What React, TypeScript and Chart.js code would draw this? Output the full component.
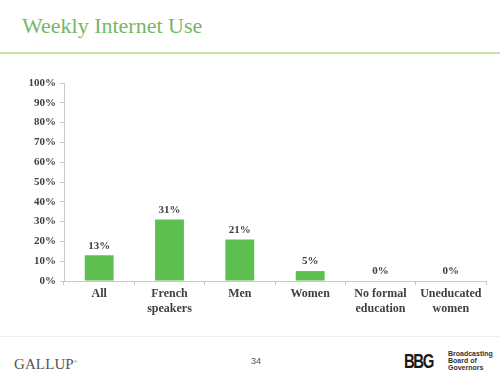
import React, { useEffect, useRef } from "react";
import { Chart, registerables } from "chart.js";

Chart.register(...registerables);

const categories: string[][] = [
  ["All"],
  ["French", "speakers"],
  ["Men"],
  ["Women"],
  ["No formal", "education"],
  ["Uneducated", "women"],
];
const values: number[] = [13, 31, 21, 5, 0, 0];
const valueLabels: string[] = ["13%", "31%", "21%", "5%", "0%", "0%"];
const yTicks: number[] = [0, 10, 20, 30, 40, 50, 60, 70, 80, 90, 100];

const SERIF = "'Liberation Serif', 'DejaVu Serif', serif";
const SANS = "'Liberation Sans', Arial, sans-serif";
const TEXT = "#404040";
const BAR = "#5cbf4f";

const valueLabelPlugin = {
  id: "valueLabels",
  afterDatasetsDraw(chart: any) {
    const ctx = chart.ctx;
    const meta = chart.getDatasetMeta(0);
    ctx.save();
    ctx.font = `bold 11px ${SERIF}`;
    ctx.fillStyle = TEXT;
    ctx.textAlign = "center";
    ctx.textBaseline = "bottom";
    meta.data.forEach((bar: any, i: number) => {
      ctx.fillText(valueLabels[i], bar.x, bar.y - 4);
    });
    ctx.restore();
  },
};

export default function App() {
  const ref = useRef<HTMLCanvasElement | null>(null);

  useEffect(() => {
    document.body.style.margin = "0";
    if (!ref.current) return;
    const chart = new Chart(ref.current, {
      type: "bar",
      data: {
        labels: categories,
        datasets: [
          {
            data: values,
            backgroundColor: BAR,
            borderWidth: 0,
            categoryPercentage: 0.82,
            barPercentage: 0.5,
          },
        ],
      },
      options: {
        animation: false,
        responsive: false,
        maintainAspectRatio: false,
        layout: { padding: { top: 13, right: 8, left: 0, bottom: 0 } },
        plugins: {
          legend: { display: false },
          tooltip: { enabled: false },
        },
        scales: {
          x: {
            offset: true,
            grid: {
              offset: true,
              drawOnChartArea: false,
              tickLength: 4,
              color: "#c8c8c8",
            },
            border: { color: "#c8c8c8" },
            ticks: {
              color: TEXT,
              font: { family: SERIF, size: 12, weight: "bold" },
              padding: 2,
              maxRotation: 0,
              autoSkip: false,
            },
            afterFit(scale: any) {
              scale.height = 39;
            },
          },
          y: {
            min: 0,
            max: 100,
            afterBuildTicks(scale: any) {
              scale.ticks = yTicks.map((v) => ({ value: v }));
            },
            grid: {
              drawOnChartArea: false,
              tickLength: 4,
              color: "#c8c8c8",
            },
            border: { color: "#c8c8c8" },
            ticks: {
              color: TEXT,
              font: { family: SERIF, size: 11, weight: "bold" },
              padding: 4,
              callback: (v: any) => `${v}%`,
            },
            afterFit(scale: any) {
              scale.width = 50;
            },
          },
        },
      },
      plugins: [valueLabelPlugin],
    });
    return () => chart.destroy();
  }, []);

  return (
    <div
      style={{
        position: "absolute",
        left: 0,
        top: 0,
        width: 500,
        height: 382,
        background: "#ffffff",
        overflow: "hidden",
      }}
    >
      <div
        style={{
          position: "absolute",
          left: 22,
          top: 13,
          fontFamily: SERIF,
          fontSize: 22,
          color: "#74b865",
          whiteSpace: "nowrap",
        }}
      >
        Weekly Internet Use
      </div>
      <div
        style={{
          position: "absolute",
          left: 0,
          top: 52,
          width: 500,
          height: 2,
          background: "#c9e4a6",
        }}
      />
      <canvas
        ref={ref}
        width={480}
        height={250}
        style={{ position: "absolute", left: 14, top: 70, width: 480, height: 250 }}
      />
      <div
        style={{
          position: "absolute",
          left: 0,
          top: 336,
          width: 500,
          height: 1,
          background: "#f0f0f0",
        }}
      />
      <div
        style={{
          position: "absolute",
          left: 14,
          top: 353,
          fontFamily: SERIF,
          fontSize: 15,
          color: "#555555",
          lineHeight: "17px",
          letterSpacing: 0.1,
        }}
      >
        GALLUP
        <sup style={{ fontSize: 5 }}>®</sup>
      </div>
      <div
        style={{
          position: "absolute",
          left: 251,
          top: 356,
          fontFamily: SANS,
          fontSize: 9,
          color: "#555555",
        }}
      >
        34
      </div>
      <div
        style={{
          position: "absolute",
          left: 404,
          top: 350,
          fontFamily: SANS,
          fontSize: 15,
          fontWeight: 900,
          color: "#1a1a1a",
          letterSpacing: -1.5,
          lineHeight: "15px",
          transform: "scaleY(1.35)",
          transformOrigin: "top left",
        }}
      >
        BBG
      </div>
      <div
        style={{
          position: "absolute",
          left: 448,
          top: 350,
          fontFamily: SANS,
          fontSize: 7,
          fontWeight: "bold",
          color: "#333333",
          lineHeight: "7px",
        }}
      >
        Broadcasting
        <br />
        Board of
        <br />
        Governors
      </div>
    </div>
  );
}
